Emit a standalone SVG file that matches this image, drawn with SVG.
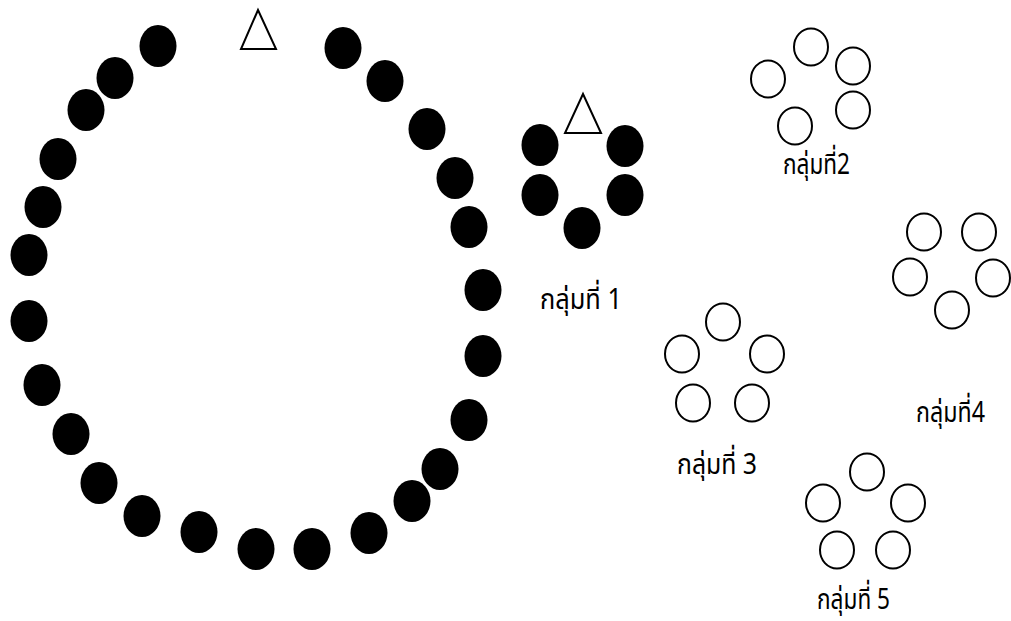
<svg xmlns="http://www.w3.org/2000/svg" xmlns:xlink="http://www.w3.org/1999/xlink" width="1011" height="621" viewBox="0 0 1011 621">
<style>
.dot{fill:#000}
.ring{fill:none;stroke:#000;stroke-width:2}
.tri{fill:#fff;stroke:#000;stroke-width:2;stroke-linejoin:miter}
.lbl{font-family:"Noto Sans Thai","Noto Sans","DejaVu Sans",sans-serif;font-size:29px;fill:#000}
</style>
<defs>
<ellipse id="d" class="dot" rx="18.5" ry="21"/>
<ellipse id="r" class="ring" rx="17" ry="18.5"/>
</defs>
<rect width="1011" height="621" fill="#fff"/>
<g id="big-circle">
<polygon class="tri" points="258,10 241,49 276,49"/>
<use xlink:href="#d" x="158" y="46"/>
<use xlink:href="#d" x="115" y="78"/>
<use xlink:href="#d" x="86" y="110"/>
<use xlink:href="#d" x="58" y="159"/>
<use xlink:href="#d" x="43" y="207"/>
<use xlink:href="#d" x="29" y="255"/>
<use xlink:href="#d" x="29" y="321"/>
<use xlink:href="#d" x="42" y="385"/>
<use xlink:href="#d" x="71" y="434"/>
<use xlink:href="#d" x="99" y="483"/>
<use xlink:href="#d" x="142" y="516"/>
<use xlink:href="#d" x="199" y="532"/>
<use xlink:href="#d" x="256" y="549"/>
<use xlink:href="#d" x="312" y="549"/>
<use xlink:href="#d" x="369" y="533"/>
<use xlink:href="#d" x="412" y="501"/>
<use xlink:href="#d" x="440" y="469"/>
<use xlink:href="#d" x="469" y="420"/>
<use xlink:href="#d" x="483" y="356"/>
<use xlink:href="#d" x="483" y="290"/>
<use xlink:href="#d" x="469" y="227"/>
<use xlink:href="#d" x="455" y="178"/>
<use xlink:href="#d" x="427" y="129"/>
<use xlink:href="#d" x="385" y="81"/>
<use xlink:href="#d" x="343" y="48"/>
</g>
<g id="group1">
<polygon class="tri" points="583,94 565,133 601,133"/>
<use xlink:href="#d" x="540" y="145"/>
<use xlink:href="#d" x="625" y="146"/>
<use xlink:href="#d" x="540" y="195"/>
<use xlink:href="#d" x="625" y="195"/>
<use xlink:href="#d" x="582" y="228"/>
<text class="lbl" x="540" y="309" textLength="82" lengthAdjust="spacingAndGlyphs">กลุ่มที่ 1</text>
</g>
<g id="group2">
<use xlink:href="#r" x="811" y="47"/>
<use xlink:href="#r" x="853" y="66"/>
<use xlink:href="#r" x="768" y="79"/>
<use xlink:href="#r" x="853" y="110"/>
<use xlink:href="#r" x="795" y="126"/>
<text class="lbl" x="783" y="174" textLength="67" lengthAdjust="spacingAndGlyphs">กลุ่มที่2</text>
</g>
<g id="group3">
<use xlink:href="#r" x="723" y="322"/>
<use xlink:href="#r" x="682" y="354"/>
<use xlink:href="#r" x="767" y="354"/>
<use xlink:href="#r" x="693" y="403"/>
<use xlink:href="#r" x="752" y="403"/>
<text class="lbl" x="677" y="474" textLength="80" lengthAdjust="spacingAndGlyphs">กลุ่มที่ 3</text>
</g>
<g id="group4">
<use xlink:href="#r" x="924" y="232"/>
<use xlink:href="#r" x="979" y="232"/>
<use xlink:href="#r" x="910" y="277"/>
<use xlink:href="#r" x="993" y="278"/>
<use xlink:href="#r" x="952" y="310"/>
<text class="lbl" x="916" y="422" textLength="69" lengthAdjust="spacingAndGlyphs">กลุ่มที่4</text>
</g>
<g id="group5">
<use xlink:href="#r" x="867" y="472"/>
<use xlink:href="#r" x="823" y="503"/>
<use xlink:href="#r" x="908" y="503"/>
<use xlink:href="#r" x="837" y="550"/>
<use xlink:href="#r" x="893" y="550"/>
<text class="lbl" x="817" y="609" textLength="73" lengthAdjust="spacingAndGlyphs">กลุ่มที่ 5</text>
</g>
</svg>
